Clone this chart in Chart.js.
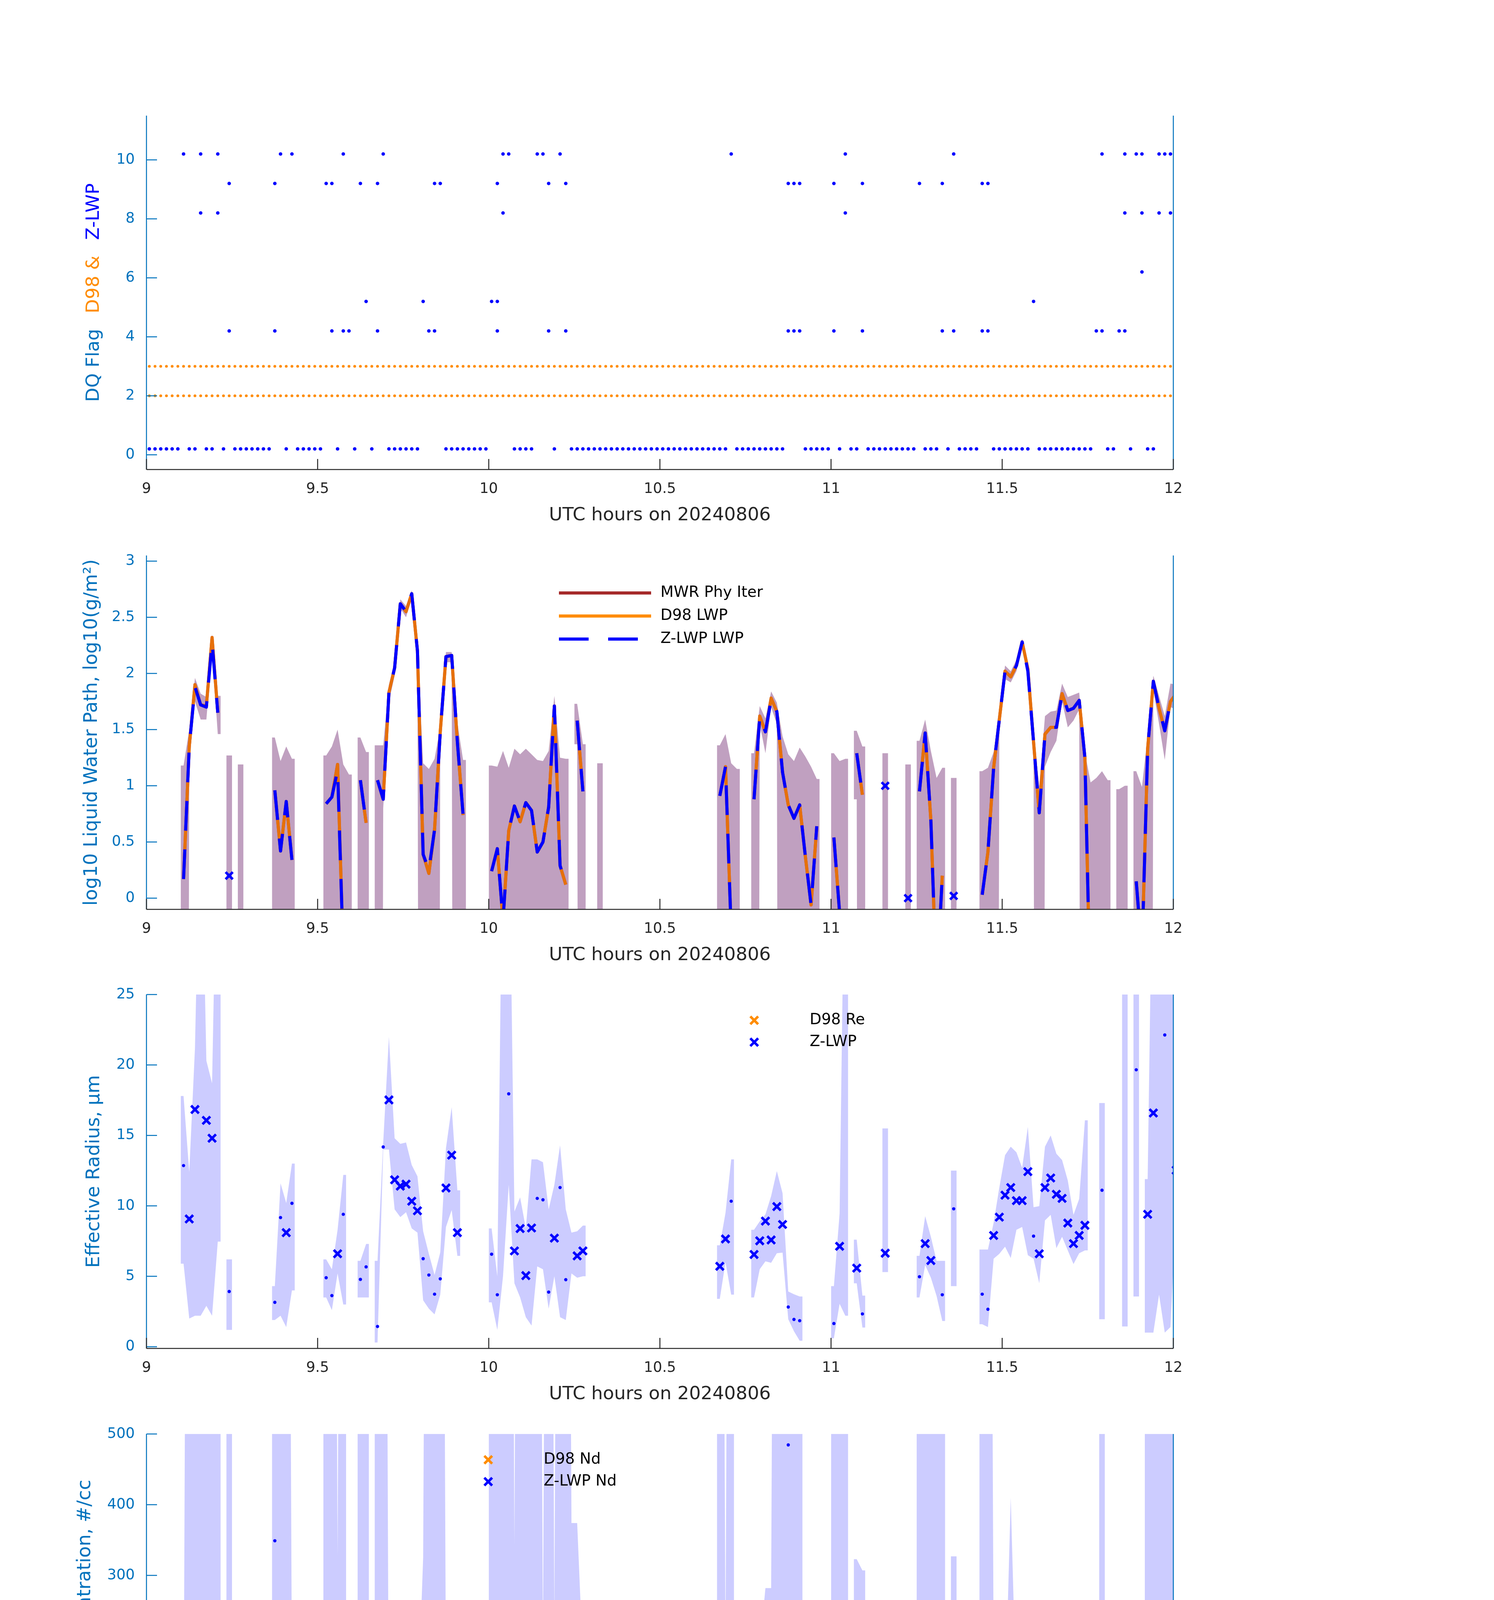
<!DOCTYPE html>
<html><head><meta charset="utf-8"><title>Z-LWP retrievals 20240806</title>
<script src="https://cdn.jsdelivr.net/npm/chart.js@4.4.1/dist/chart.umd.min.js"></script>
<style>
html,body{margin:0;padding:0;background:#fff;}
body{width:3825px;height:6000px;position:relative;overflow:hidden;}
.panel{position:absolute;left:0;width:3825px;height:1166px;}
canvas{display:block;}
</style></head><body>
<div class="panel" style="top:236px"><canvas id="p1" width="3825" height="1166"></canvas></div>
<div class="panel" style="top:1362px"><canvas id="p2" width="3825" height="1166"></canvas></div>
<div class="panel" style="top:2486px"><canvas id="p3" width="3825" height="1166"></canvas></div>
<div class="panel" style="top:3611px"><canvas id="p4" width="3825" height="1166"></canvas></div>
<div class="panel" style="top:4735px"><canvas id="p5" width="3825" height="1166"></canvas></div>
<script>
// ---------- time axis ----------
const START_HOUR = 9;                      // samples every minute, centred on the half minute
const xTickHours = [9, 9.5, 10, 10.5, 11, 11.5, 12];

// ---------- panel 1 : DQ flags (minute indices) ----------
const flagTicks = [0, 2, 4, 6, 8, 10];
const zFlag10 = [6,9,12,23,25,34,41,62,63,68,69,72,102,122,141,167,171,173,174,177,178,179];
const zFlag9  = [14,22,31,32,37,40,50,51,61,70,73,112,113,114,120,125,135,139,146,147];
const zFlag8  = [9,12,62,122,171,174,177,179];
const zFlag6  = [174];
const zFlag5  = [38,48,60,61,155];
const zFlag4  = [14,22,32,34,35,40,49,50,61,70,73,112,113,114,120,125,139,141,146,147,166,167,170,171];
const zFlag0Ranges = [[0,5],[7,8],[10,11],[13,13],[15,21],[24,24],[26,30],[33,33],[36,36],[39,39],[42,47],[52,59],[64,67],[71,71],[74,101],[103,111],[115,119],[121,121],[123,124],[126,134],[136,138],[140,140],[142,145],[148,154],[156,165],[168,169],[172,172],[175,176],[180,180]];
const d98FlagValues = [2, 3];
const d98FlagMinuteRange = [0, 180];

// ---------- panel 2 : log10 LWP ----------
const lwpTicks = [0, 0.5, 1, 1.5, 2, 2.5, 3];
const lwpMinutes = [
  6,7,8,9,10,11,12,14,16,22,
  23,24,25,31,32,33,34,35,37,38,
  40,41,42,43,44,45,46,47,48,49,
  50,51,52,53,54,55,60,61,62,63,
  64,65,66,67,68,69,70,71,72,73,
  75,76,79,100,101,102,103,106,107,108,
  109,110,111,112,113,114,115,116,117,120,
  121,122,124,125,129,133,135,136,137,138,
  139,141,146,147,148,149,150,151,152,153,
  154,155,156,157,158,159,160,161,162,163,
  164,165,166,167,168,170,171,173,174,175,
  176,177,178,179,180];
const lwpZ = [
  0.17,1.35,1.88,1.72,1.70,2.28,1.65,0.2,null,0.96,
  0.42,0.86,0.34,0.84,0.9,1.14,-0.5,null,1.05,0.67,
  1.05,0.88,1.83,2.05,2.62,2.55,2.71,2.2,0.39,0.25,
  0.61,1.48,2.15,2.16,1.39,0.74,0.24,0.44,-0.2,0.6,
  0.82,0.68,0.85,0.78,0.41,0.5,0.81,1.71,0.29,0.12,
  1.58,0.95,null,0.91,1.17,-0.3,null,0.88,1.62,1.48,
  1.77,1.66,1.12,0.83,0.71,0.83,0.37,-0.06,0.64,0.54,
  -0.13,null,1.29,0.92,1.0,0.0,0.95,1.47,0.69,-0.8,
  0.2,0.02,0.03,0.41,1.16,1.59,2.02,1.97,2.07,2.28,
  2.02,1.39,0.76,1.46,1.52,1.52,1.82,1.67,1.69,1.76,
  1.25,-1,null,null,null,null,null,0.15,-0.5,1.33,
  1.93,1.69,1.49,1.75,1.82];
const lwpD98 = [
  0.17,1.35,1.9,1.72,1.71,2.32,1.65,null,null,0.96,
  0.42,0.86,0.34,0.84,0.9,1.19,-0.5,null,1.05,0.67,
  1.05,0.88,1.83,2.05,2.62,2.55,2.71,2.2,0.39,0.22,
  0.61,1.48,2.15,2.16,1.39,0.74,0.24,0.44,-0.2,0.6,
  0.82,0.68,0.85,0.78,0.41,0.5,0.81,1.71,0.29,0.12,
  1.58,0.95,null,0.91,1.17,-0.3,null,0.88,1.62,1.48,
  1.78,1.66,1.12,0.83,0.71,0.83,0.37,-0.06,0.64,0.54,
  -0.13,null,1.29,0.92,null,null,0.95,1.47,0.69,-0.8,
  0.2,null,0.03,0.41,1.16,1.59,2.02,1.97,2.07,2.28,
  2.04,1.39,0.76,1.46,1.52,1.52,1.82,1.67,1.69,1.76,
  1.25,-1,null,null,null,null,null,0.15,-0.5,1.33,
  1.93,1.69,1.49,1.75,1.82];
const lwpMwr = lwpD98;   // the MWR physical retrieval lies under the D98 curve in the picture
const lwpLow = [
  -20,1.2,1.75,1.59,1.59,2.2,1.46,-20,-20,-20,
  -20,-20,-20,-20,-20,-20,-20,-20,-20,-20,
  -20,0.8,1.75,1.98,2.58,2.5,2.67,2.1,-20,-20,
  -20,1.4,2.1,2.1,-20,-20,-20,-20,-20,-20,
  -20,-20,-20,-20,-20,-20,-20,-20,-20,-20,
  1.37,-20,-20,-20,-20,-20,-20,-20,1.55,1.29,
  1.7,1.55,-20,-20,-20,-20,-20,-20,-20,-20,
  -20,-20,0.88,-20,-20,-20,-20,-20,-20,-20,
  -20,-20,-20,-20,-20,1.5,1.95,1.92,2.02,2.24,
  1.95,1.3,-20,1.17,1.3,1.4,1.75,1.52,1.58,1.68,
  -20,-20,-20,-20,-20,-20,-20,-20,-20,-20,
  1.85,1.55,1.23,1.7,1.68];
const lwpHigh = [
  1.18,1.5,1.96,1.82,1.79,2.35,1.8,1.27,1.19,1.43,
  1.22,1.35,1.24,1.27,1.35,1.5,1.19,1.1,1.43,1.3,
  1.36,1.36,1.9,2.1,2.66,2.6,2.74,2.25,1.2,1.15,
  1.24,1.52,2.19,2.19,1.56,1.23,1.18,1.17,1.31,1.16,
  1.33,1.28,1.33,1.28,1.23,1.22,1.31,1.8,1.25,1.24,
  1.73,1.37,1.2,1.36,1.46,1.2,1.15,1.29,1.71,1.6,
  1.84,1.74,1.44,1.28,1.22,1.34,1.26,1.17,1.06,1.29,
  1.22,1.24,1.49,1.35,1.29,1.19,1.4,1.59,1.31,1.07,
  1.16,1.07,1.13,1.16,1.3,1.65,2.07,2.02,2.12,2.31,
  2.07,1.45,1.0,1.62,1.66,1.67,1.91,1.79,1.81,1.83,
  1.3,1.03,1.07,1.13,1.05,0.97,1.0,1.13,0.99,1.45,
  1.98,1.8,1.62,1.91,1.9];

// ---------- panels 3-5 : retrievals (shared minute list) ----------
const retrievalMinutes = [
  6,7,8,9,10,11,12,14,22,23,
  24,25,31,32,33,34,37,38,40,41,
  42,43,44,45,46,47,48,49,50,51,
  52,53,54,60,61,62,63,64,65,66,
  67,68,69,70,71,72,73,74,75,76,
  100,101,102,106,107,108,109,110,111,112,
  113,114,120,121,122,124,125,129,135,136,
  137,138,139,141,146,147,148,149,150,151,
  152,153,154,155,156,157,158,159,160,161,
  162,163,164,167,171,173,174,175,176,177,
  178,179,180];

// effective radius (um)
const reTicks = [0, 5, 10, 15, 20, 25];
const reGood = [
  null,9.07,16.84,null,16.07,14.8,null,null,null,null,
  8.1,null,null,null,6.6,null,null,null,null,null,
  17.52,11.85,11.4,11.54,10.33,9.65,null,null,null,null,
  11.27,13.6,8.1,null,null,null,null,6.8,8.39,5.05,
  8.43,null,null,null,7.71,null,null,null,6.45,6.8,
  5.71,7.65,null,6.55,7.52,8.92,7.58,9.95,8.68,null,
  null,null,null,7.13,null,5.58,null,6.64,null,7.32,
  6.12,null,null,null,null,null,7.9,9.2,10.76,11.3,
  10.37,10.37,12.43,null,6.6,11.3,11.98,10.82,10.53,8.78,
  7.32,7.9,8.62,null,null,null,null,9.4,16.59,null,
  null,null,12.53];
const reFlagged = [
  12.86,null,null,null,null,null,null,3.92,3.15,9.17,
  null,10.18,4.9,3.63,null,9.4,4.78,5.67,1.44,14.18,
  null,null,null,null,null,null,6.25,5.09,3.73,4.82,
  null,null,null,6.57,3.69,null,17.95,null,null,null,
  null,10.53,10.43,3.88,null,11.3,4.76,null,null,null,
  null,null,10.33,null,null,null,null,null,null,2.82,
  1.94,1.85,1.65,null,null,null,2.33,null,4.97,null,
  null,null,3.69,9.79,3.73,2.66,null,null,null,null,
  null,null,null,7.85,null,null,null,null,null,null,
  null,null,null,11.11,null,19.66,null,null,null,null,
  22.13,null,null];
const reLow = [
  5.9,2.0,2.2,2.2,2.9,2.2,7.46,1.2,1.9,2.2,
  1.4,4.0,3.5,2.6,5.2,3.0,3.5,3.5,0.3,14.0,
  14.0,9.75,9.2,9.55,8.4,8.1,3.3,2.7,2.3,3.7,
  8.5,9.7,6.45,3.15,1.2,5.0,11.5,4.5,3.5,2.1,
  1.5,5.7,5.5,2.7,5.0,2.1,1.9,5.2,4.9,5.0,
  3.4,6.0,3.7,3.5,5.5,6.06,5.96,6.64,6.68,1.95,
  1.1,0.43,0.6,3.05,2.2,4.5,1.36,5.3,3.5,5.8,
  4.9,3.6,1.83,4.3,1.6,1.4,6.25,6.6,7.1,6.3,
  8.3,8.5,6.5,6.25,4.5,8.97,9.36,7.0,7.8,6.84,
  5.87,6.64,6.84,1.95,1.44,3.57,null,1.0,1.0,3.7,
  1.0,1.4,9.95];
const reHigh = [
  17.8,12.4,21.2,40,20.3,18.7,40,6.2,4.3,11.6,
  10.2,13.0,6.2,5.5,8.3,12.2,6.1,7.3,6.1,14.5,
  22.0,14.8,14.4,14.5,12.9,12.1,8.2,6.6,5.1,6.7,
  14.1,17.0,11.1,8.4,5.0,40,40,9.6,10.6,8.4,
  13.3,13.3,13.1,9.75,11.5,14.3,9.75,8.1,8.2,8.6,
  7.2,9.5,13.3,8.3,8.9,9.4,10.7,12.47,10.9,3.92,
  3.73,3.57,4.3,9.46,40,7.6,3.63,15.5,6.45,9.27,
  7.8,6.1,6.1,12.5,6.9,6.9,8.8,11.3,13.6,14.2,
  13.8,12.7,15.6,9.9,9.98,14.2,15.0,13.7,13.25,11.8,
  9.36,10.5,16.07,17.3,40,40,null,11.9,40,40,
  40,40,40];

// droplet concentration (#/cc)
const ndTicks = [0, 100, 200, 300, 400, 500];
const ndGood = [
  null,38.7,8.5,null,14.7,27.1,null,null,null,null,
  27.1,null,null,null,73.5,null,null,null,null,null,
  5.8,23.2,88.2,55,112.2,43.3,null,null,null,null,
  47.6,12.4,25.2,null,null,null,null,30.2,14.7,123,
  6.6,null,null,null,118.8,null,null,null,183.8,25.2,
  103.7,49.5,null,66.6,111.5,45.7,141.3,40.6,23.2,null,
  null,null,null,5.8,null,123.8,null,50.3,null,84,
  42.6,null,null,null,null,null,42.6,58,56.9,39.5,
  63.9,88.2,27.9,null,14.7,29,21.3,31,58,54.2,
  101.4,96,25.2,null,null,null,null,15.5,6.6,null,
  null,null,61.1];
const ndFlagged = [
  0.8,null,null,null,null,null,null,82,349,4.6,
  null,2,100.6,156.7,null,2,216.7,29,2,2,
  null,null,null,null,null,null,8.5,21.3,142.4,65,
  null,null,null,12.4,173.4,0.8,0.8,null,null,null,
  null,3,3,62.7,null,2,15.5,null,null,null,
  null,null,1,null,null,null,null,null,null,484.5,
  null,null,null,null,0,null,null,null,70.4,null,
  null,null,71.6,2,91,262,null,null,null,null,
  null,null,null,27.9,null,null,null,null,null,null,
  null,null,null,0,0,0,0,null,null,0,
  0,0,null];
const ndLow = [
  0,3,1,1,3,8,2,12,83,4,
  8,2,46,62,35.6,1,94,12,0,0,
  0,11.6,58,29,40,29,1,4,5,10,
  12,5,2,10,0,0,0,3,3,60,
  2,0,0,0,60,0,0,70,70,5,
  23,25,0,31,40,35,40,20,8,0,
  0,0,94,0,0,19,19,0,33,33,
  20,10,0,0,8,8,31,28,25,23,
  27,25,15,5,8,23,15,27,39,37,
  42,31,15,0,null,0,null,10,0,0,
  0,0,0];
const ndHigh = [
  63,2000,2000,2000,2000,2000,2000,2000,2000,2000,
  2000,147,2000,2000,327,2000,2000,2000,2000,2000,
  20,176,155,120,219,100,325,2000,2000,2000,
  145,145,65,2000,2000,2000,2000,342,2000,2000,
  2000,2000,200,2000,240,2000,2000,374,374,182,
  2000,201,2000,100,197,282,282,2000,2000,2000,
  2000,2000,2000,2000,2000,323,307,188,2000,2000,
  2000,2000,2000,327,2000,2000,187,116,114,410,
  116,110,52,52,139,52,60,149,120,118,
  201,195,120,2000,null,145,null,2000,2000,2000,
  2000,2000,122];

// optical depth
const odTicks = [0, 10, 20, 30, 40, 50, 60, 70];
const odGood = [
  null,3.2,7.3,null,4.7,20.4,null,null,null,null,
  1.4,null,null,null,3.7,null,null,null,null,null,
  5.6,15.7,55.8,46.9,74.4,24.6,null,null,null,null,
  18.75,15.9,4.3,null,null,null,null,1.7,0.8,2.6,
  1.4,null,null,null,10.3,null,null,null,9.1,2.1,
  2.3,3.2,null,1.8,8.5,5.3,12.2,6.5,2.4,null,
  null,null,null,0.3,null,5.3,null,2.4,null,5.9,
  1.4,null,null,null,null,null,2.6,7.4,14.7,12.6,
  17.1,27.9,12.5,null,1.4,3.9,4.3,4.5,10,8.2,
  9.9,11.1,2.7,null,null,null,null,3.3,7.7,null,
  null,null,8.0];
const odFlagged = [
  0.2,null,null,2.6,null,null,2.9,0.7,4.4,0.6,
  null,0.3,2.3,3.2,null,0.2,3.8,1.4,12,1,
  null,null,null,null,null,null,0.8,0.6,1.7,7.1,
  null,null,null,0.5,1.3,0.2,0.4,null,null,null,
  null,0.6,0.6,2.6,null,0.5,0.6,null,null,null,
  null,null,0.2,null,null,null,null,null,null,4.1,
  4.1,5.6,3.2,null,0.2,null,5.6,null,2.8,null,
  null,null,0.8,0.3,0.6,2.6,null,null,null,null,
  null,null,null,5.5,null,null,null,null,null,null,
  null,null,null,0.2,0.2,0.2,0.2,null,null,2.3,
  2.3,3.3,null];
const odLow = [
  0,0.8,5.6,2,2,16.4,0,0.3,3.2,0.3,
  0.3,0.3,0.8,2.9,2.9,0,3.2,0.8,0,0.5,
  1,5.6,45,37.7,60,19.5,0.2,0.2,1,6,
  14.7,10.8,1.4,0,0,0,0,0.8,0,1.5,
  0.5,0.2,0.2,0.2,8,0,0,0.2,4.7,1.4,
  1.4,2.0,0,0.8,4.4,3,5.6,3,0.3,2.5,
  2.3,4.4,0,0,0,3.5,2,0.2,2,2,
  0.5,0.3,0,0,0,0,1.5,4.7,10.5,10.2,
  11.7,14.7,9.9,0,0.3,2,2.6,3.2,7.1,5.9,
  7.1,7.7,1.4,0,0,0,0,1.7,5.9,1.4,
  1.0,1.4,4.1];
const odHigh = [
  4.1,13.5,46,36,26,200,9.3,16.6,18.8,5.0,
  7.4,5.3,8.0,13.8,9.3,7.4,11.7,9.3,53,7.1,
  7.3,17,70,59.5,200,31,7.1,8.7,11,16,
  25.3,21.5,8,7.6,10.8,1.5,2,7.6,5,9.3,
  5.6,4.7,4.5,8.3,13.8,2,13.5,14.1,10,7.4,
  8.3,7.4,6.5,7.7,11.4,9,15.3,9.5,9,13.5,
  20,27.1,31.8,8.2,13,9.9,19.8,5.3,10.9,9,
  6.5,6,12.1,4.1,12.8,13.2,8.5,10,18,23.4,
  20,34.7,16,7.7,5.3,5.3,5.3,5.7,12.6,11,
  14,14.2,6.5,11.1,11.1,2.4,1,29.8,200,18.9,
  18.9,68.2,10.3];

// ---------- style ----------
const FONT = '"DejaVu Sans", "Liberation Sans", sans-serif';
const AXIS_BLUE = '#0072BD', DARK = '#262626', BLUE = '#0000FF', ORANGE = '#FF8C00', MWR_RED = '#A52A2A';
const BAND_PURPLE = 'rgb(192,160,192)', BAND_LAVENDER = 'rgb(204,204,255)';
Chart.defaults.font.family = FONT;

const toHour = m => START_HOUR + (m + 0.5) / 60;

function lineSeries(minutes, values) {
  const pts = [];
  minutes.forEach((m, i) => {
    if (i > 0 && m !== minutes[i - 1] + 1) pts.push({x: toHour(m - 0.5), y: null});
    pts.push({x: toHour(m), y: values[i]});
  });
  return pts;
}
function pointSeries(minutes, values) {
  return minutes.map((m, i) => ({x: toHour(m), y: values[i]})).filter(p => p.y != null);
}
function bandSeries(minutes, lo, hi) {
  const L = [], H = [];
  const push = (x, a, b) => { L.push({x, y: a}); H.push({x, y: b}); };
  let i = 0;
  while (i < minutes.length) {
    if (lo[i] == null || hi[i] == null) { i++; continue; }
    let j = i;
    while (j + 1 < minutes.length && minutes[j + 1] === minutes[j] + 1 && lo[j + 1] != null && hi[j + 1] != null) j++;
    push(toHour(minutes[i] - 0.5), lo[i], hi[i]);
    for (let m = i; m <= j; m++) push(toHour(minutes[m]), lo[m], hi[m]);
    push(toHour(minutes[j] + 0.5), lo[j], hi[j]);
    push(toHour(minutes[j] + 0.5), null, null);
    i = j + 1;
  }
  return [L, H];
}
function isIsolated(data, i) {
  return data[i] && data[i].y != null && (i === 0 || data[i - 1].y == null) && (i === data.length - 1 || data[i + 1].y == null);
}

// ---------- axes / legend plugin (MATLAB-like inward ticks, frame, free legend) ----------
const matlabAxes = {
  id: 'matlabAxes',
  afterDatasetsDraw(chart) {
    const {ctx, chartArea: a} = chart;
    const xs = chart.scales.x, ys = chart.scales.y;
    ctx.save();
    ctx.lineWidth = 2.5; ctx.lineCap = 'butt'; ctx.setLineDash([]);
    ctx.strokeStyle = AXIS_BLUE;
    ctx.beginPath();
    ys.ticks.forEach(t => { const p = ys.getPixelForValue(t.value); ctx.moveTo(a.left, p); ctx.lineTo(a.left + 27, p); });
    ctx.moveTo(a.left, a.top); ctx.lineTo(a.left, a.bottom);
    ctx.moveTo(a.right, a.top); ctx.lineTo(a.right, a.bottom);
    ctx.stroke();
    ctx.strokeStyle = DARK;
    ctx.beginPath();
    xs.ticks.forEach(t => { const p = xs.getPixelForValue(t.value); ctx.moveTo(p, a.bottom); ctx.lineTo(p, a.bottom - 27); });
    ctx.moveTo(a.left, a.bottom); ctx.lineTo(a.right, a.bottom);
    ctx.stroke();
    ctx.restore();
  },
  afterDraw(chart, args, o) {
    const {ctx, chartArea: a} = chart;
    ctx.save();
    if (o.legend) {
      const L = o.legend;
      ctx.font = '39px ' + FONT; ctx.textBaseline = 'middle'; ctx.textAlign = 'left';
      L.items.forEach((it, i) => {
        const y = a.top + L.rows[i];
        if (it.kind === 'line') {
          ctx.strokeStyle = it.color; ctx.lineWidth = 8; ctx.setLineDash(it.dash ? [it.dash[0], it.dash[1]] : []);
          ctx.beginPath(); ctx.moveTo(a.left + L.sampleX, y); ctx.lineTo(a.left + L.sampleX + L.sampleLen, y); ctx.stroke();
          ctx.setLineDash([]);
        } else {
          const cx = a.left + L.sampleX, r = 10;
          ctx.strokeStyle = it.color; ctx.lineWidth = 6.5;
          ctx.beginPath(); ctx.moveTo(cx - r, y - r); ctx.lineTo(cx + r, y + r); ctx.moveTo(cx + r, y - r); ctx.lineTo(cx - r, y + r); ctx.stroke();
        }
        ctx.fillStyle = '#000';
        ctx.fillText(it.label, a.left + L.textX, y);
      });
    }
    if (o.titleParts) {
      ctx.font = '47px ' + FONT; ctx.textBaseline = 'middle'; ctx.textAlign = 'left';
      const gap = 40;
      const parts = o.titleParts.map(p => ({text: p.text, color: p.color}));
      const widths = parts.map(p => ctx.measureText(p.text).width);
      const total = widths.reduce((s, w) => s + w, 0) + gap * (widths.length - 1);
      ctx.translate(o.titleCenterX, (a.top + a.bottom) / 2);
      ctx.rotate(-Math.PI / 2);
      let x = -total / 2;
      parts.forEach((p, i) => { ctx.fillStyle = p.color; ctx.fillText(p.text, x, 0); x += widths[i] + gap; });
    }
    ctx.restore();
  }
};
Chart.register(matlabAxes);

function makeOptions(c) {
  return {
    responsive: false, animation: false, devicePixelRatio: 1, events: [],
    layout: {padding: {top: 60, left: 0, right: 821, bottom: 0}},
    plugins: {legend: {display: false}, tooltip: {enabled: false},
      matlabAxes: {legend: c.legend || null, titleParts: c.titleParts || null, titleCenterX: c.titleCenter}},
    scales: {
      x: {type: 'linear', min: 9, max: 12,
        afterBuildTicks: s => { s.ticks = xTickHours.map(v => ({value: v})); },
        afterFit: s => { s.height = 200; },
        grid: {display: false, drawTicks: false}, border: {display: false},
        ticks: {autoSkip: false, maxRotation: 0, minRotation: 0, padding: 28, color: DARK,
                font: {family: FONT, size: 37}, callback: v => String(v)},
        title: {display: true, text: 'UTC hours on 20240806', color: DARK,
                font: {family: FONT, size: 47}, padding: {top: 0, bottom: 54}}},
      y: {type: 'linear', min: c.yMin, max: c.yMax,
        afterBuildTicks: s => { s.ticks = c.yTicks.map(v => ({value: v})); },
        afterFit: s => { s.width = 375; },
        grid: {display: false, drawTicks: false}, border: {display: false},
        ticks: {autoSkip: false, padding: 30, color: AXIS_BLUE, font: {family: FONT, size: 37}, callback: v => String(v)},
        title: c.yTitle ? {display: true, text: c.yTitle, color: AXIS_BLUE, font: {family: FONT, size: 48},
                           padding: {top: c.titleCenter - 29, bottom: 0}} : {display: false}}
    }
  };
}

// ---------- panel 1 ----------
(function () {
  const zPts = [];
  const addRow = (flag, mins) => mins.forEach(m => zPts.push({x: toHour(m), y: flag + 0.2}));
  addRow(10, zFlag10); addRow(9, zFlag9); addRow(8, zFlag8); addRow(6, zFlag6); addRow(5, zFlag5); addRow(4, zFlag4);
  zFlag0Ranges.forEach(([a, b]) => { for (let m = a; m <= b; m++) zPts.push({x: toHour(m), y: 0.2}); });
  const dPts = [];
  d98FlagValues.forEach(v => { for (let m = d98FlagMinuteRange[0]; m <= d98FlagMinuteRange[1]; m++) dPts.push({x: toHour(m), y: v}); });
  new Chart(document.getElementById('p1'), {
    type: 'line',
    data: {datasets: [
      {label: 'Z-LWP', data: zPts, showLine: false, pointRadius: 4.5, pointBackgroundColor: BLUE, pointBorderWidth: 0, order: 1},
      {label: 'D98', data: dPts, showLine: false, pointRadius: 3.6, pointBackgroundColor: ORANGE, pointBorderWidth: 0, order: 2}
    ]},
    options: makeOptions({yMin: -0.5, yMax: 11.5, yTicks: flagTicks, titleCenter: 241,
      titleParts: [{text: 'DQ Flag', color: AXIS_BLUE}, {text: 'D98 &', color: ORANGE}, {text: 'Z-LWP', color: BLUE}]})
  });
})();

// ---------- panel 2 ----------
(function () {
  const [lo, hi] = bandSeries(lwpMinutes, lwpLow, lwpHigh);
  const zData = lineSeries(lwpMinutes, lwpZ);
  new Chart(document.getElementById('p2'), {
    type: 'line',
    data: {datasets: [
      {label: 'Z-LWP LWP', data: zData, borderColor: BLUE, borderWidth: 8, borderDash: [76, 48], borderJoinStyle: 'round',
       pointStyle: 'crossRot', pointRadius: ctx => isIsolated(ctx.dataset.data, ctx.dataIndex) ? 13 : 0,
       pointBorderColor: BLUE, pointBorderWidth: 6.5, order: 1},
      {label: 'D98 LWP', data: lineSeries(lwpMinutes, lwpD98), borderColor: 'rgba(255,140,0,0.72)', borderWidth: 8, borderJoinStyle: 'round', pointRadius: 0, order: 2},
      {label: 'MWR Phy Iter', data: lineSeries(lwpMinutes, lwpMwr), borderColor: MWR_RED, borderWidth: 8, borderJoinStyle: 'round', pointRadius: 0, order: 3},
      {label: 'band low', data: lo, borderWidth: 0, borderColor: 'rgba(0,0,0,0)', pointRadius: 0, fill: false, order: 10},
      {label: 'band high', data: hi, borderWidth: 0, borderColor: 'rgba(0,0,0,0)', pointRadius: 0, fill: '-1', backgroundColor: BAND_PURPLE, order: 10}
    ]},
    options: makeOptions({yMin: -0.1, yMax: 3.05, yTicks: lwpTicks, titleCenter: 236,
      yTitle: 'log10 Liquid Water Path, log10(g/m²)',
      legend: {sampleX: 1056, sampleLen: 236, textX: 1316, rows: [96, 155, 214], items: [
        {kind: 'line', color: MWR_RED, label: 'MWR Phy Iter'},
        {kind: 'line', color: ORANGE, label: 'D98 LWP'},
        {kind: 'line', color: BLUE, dash: [76, 50], label: 'Z-LWP LWP'}]}})
  });
})();

// ---------- panels 3-5 ----------
function retrievalChart(id, good, flagged, low, high, cfg) {
  const [lo, hi] = bandSeries(retrievalMinutes, low, high);
  new Chart(document.getElementById(id), {
    type: 'line',
    data: {datasets: [
      {label: cfg.zLabel, data: pointSeries(retrievalMinutes, good), showLine: false, pointStyle: 'crossRot',
       pointRadius: 14, pointBorderWidth: 6.5, pointBorderColor: BLUE, order: 1},
      {label: cfg.zLabel + ' (flagged)', data: pointSeries(retrievalMinutes, flagged), showLine: false, pointStyle: 'circle',
       pointRadius: 4.2, pointBackgroundColor: BLUE, pointBorderWidth: 0, order: 2},
      {label: cfg.dLabel, data: [], showLine: false, pointStyle: 'crossRot', pointRadius: 14, pointBorderWidth: 6.5, pointBorderColor: ORANGE, order: 3},
      {label: 'band low', data: lo, borderWidth: 0, borderColor: 'rgba(0,0,0,0)', pointRadius: 0, fill: false, order: 10},
      {label: 'band high', data: hi, borderWidth: 0, borderColor: 'rgba(0,0,0,0)', pointRadius: 0, fill: '-1', backgroundColor: BAND_LAVENDER, order: 10}
    ]},
    options: makeOptions({yMin: cfg.yMin, yMax: cfg.yMax, yTicks: cfg.yTicks, titleCenter: cfg.titleCenter, yTitle: cfg.yTitle,
      legend: {sampleX: cfg.legendX, textX: cfg.legendX + 142, rows: cfg.legendRows, items: [
        {kind: 'marker', color: ORANGE, label: cfg.dLabel},
        {kind: 'marker', color: BLUE, label: cfg.zLabel}]}})
  });
}
retrievalChart('p3', reGood, reFlagged, reLow, reHigh,
  {yMin: -0.12, yMax: 25, yTicks: reTicks, titleCenter: 242, yTitle: 'Effective Radius, μm',
   dLabel: 'D98 Re', zLabel: 'Z-LWP', legendX: 1556, legendRows: [66, 122]});
retrievalChart('p4', ndGood, ndFlagged, ndLow, ndHigh,
  {yMin: -0.5, yMax: 500, yTicks: ndTicks, titleCenter: 219, yTitle: 'Droplet Concentration, #/cc',
   dLabel: 'D98 Nd', zLabel: 'Z-LWP Nd', legendX: 875, legendRows: [66, 122]});
retrievalChart('p5', odGood, odFlagged, odLow, odHigh,
  {yMin: -0.1, yMax: 78.2, yTicks: odTicks, titleCenter: 243, yTitle: 'Optical Depth',
   dLabel: 'D98 OD', zLabel: 'Z-LWP Nd', legendX: 1532, legendRows: [67, 125]});
</script>
</body></html>
